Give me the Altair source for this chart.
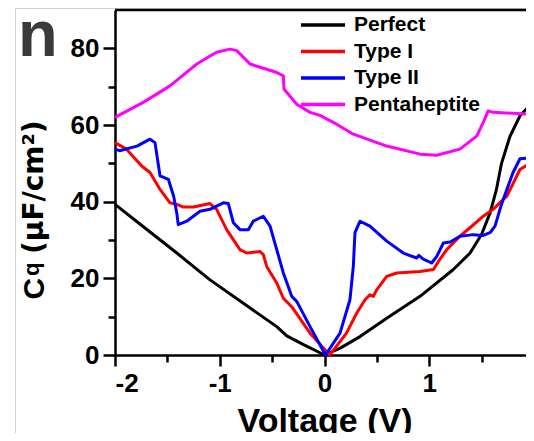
import altair as alt
import pandas as pd

# ---- data ----
perfect_v = [-2, -1.735, -1.41, -1.093, -0.775, -0.456, -0.36, -0.2, 0, 0.15, 0.339, 0.594, 0.912, 1.23, 1.39, 1.5, 1.58, 1.64, 1.69, 1.77, 1.866, 2.0]
perfect_c = [39.3, 33.6, 26.6, 19.6, 13.5, 7.4, 5.0, 2.7, 0, 1.8, 4.8, 9.6, 15.3, 22.3, 26.6, 31.5, 37, 43, 50, 57, 62.4, 66.3]

type1_v = [-2, -1.89, -1.745, -1.666, -1.57, -1.475, -1.41, -1.348, -1.25, -1.093, -1.03, -0.934, -0.807, -0.743,
           -0.616, -0.584, -0.552, -0.456, -0.393, -0.313, -0.138, 0.05, 0.21, 0.307, 0.387, 0.434, 0.466, 0.498,
           0.594, 0.689, 0.912, 1.04, 1.10, 1.167, 1.293, 1.389, 1.516, 1.61, 1.707, 1.74, 1.866, 2.0]
type1_c = [55.4, 53.7, 49.3, 47.6, 43.2, 39.7, 39.3, 38.6, 38.6, 39.5, 38, 32.7, 27.5, 26.6,
           27, 26.2, 23.1, 18.8, 14.8, 12.6, 5.7, 0, 5.7, 10.9, 14.4, 15.7, 15.3, 17,
           20.5, 21.4, 21.8, 22.3, 24.9, 27.5, 31, 33.2, 36.2, 38, 40.6, 41.4, 48.4, 50.6]

type2_v = [-2, -1.957, -1.79, -1.666, -1.618, -1.57, -1.49, -1.44, -1.41, -1.396, -1.315, -1.189, -1.093, -0.966,
           -0.918, -0.87, -0.807, -0.727, -0.68, -0.584, -0.52, -0.456, -0.393, -0.313, -0.265, -0.138, 0.01,
           0.148, 0.243, 0.275, 0.291, 0.339, 0.434, 0.594, 0.752, 0.88, 0.9, 0.943, 1.023, 1.071, 1.134, 1.2,
           1.293, 1.42, 1.516, 1.58, 1.628, 1.675, 1.707, 1.80, 1.866, 2.0]
type2_c = [53.7, 53.3, 54.5, 56.3, 55.4, 46.7, 45.8, 41.4, 37, 34, 34.9, 37.5, 38, 39.7,
           39.5, 34.5, 32.7, 32.7, 34.9, 36.2, 33.6, 27.5, 21.4, 15.3, 14, 7.4, 0,
           5.7, 14.4, 23.1, 31.9, 34.9, 33.6, 29.7, 26.6, 25.3, 26, 25, 24, 25.7, 29.2, 29.5,
           31, 31.4, 31.2, 31.9, 33.6, 38, 40.6, 47.6, 51.2, 51.5]

penta_v = [-2, -1.73, -1.475, -1.22, -1.03, -0.902, -0.838, -0.775, -0.711, -0.584, -0.456, -0.393, -0.387,
           -0.265, -0.138, -0.043, 0.084, 0.275, 0.594, 0.912, 1.071, 1.293, 1.453, 1.516, 1.563, 1.61, 2.0]
penta_c = [62, 65.9, 70.2, 75.9, 79, 79.8, 79.4, 77.7, 75.9, 74.8, 73.7, 72.8, 69.4,
           65.4, 63.3, 62.5, 60.7, 57.6, 54.5, 52.4, 52.1, 53.7, 57.1, 60.7, 63.7, 63.3, 62.8]

series_names = ["Perfect", "Type I", "Type II", "Pentaheptite"]
series_colors = ["#000000", "#ff0000", "#0000ff", "#ff00ff"]
x_ticks = [-2, -1.5, -1, -0.5, 0, 0.5, 1, 1.5, 2]
y_ticks = [0, 10, 20, 30, 40, 50, 60, 70, 80]

rows = []
for name, vs, cs in zip(series_names, [perfect_v, type1_v, type2_v, penta_v], [perfect_c, type1_c, type2_c, penta_c]):
    for i, (v, c) in enumerate(zip(vs, cs)):
        rows.append({"series": name, "V": v, "C": c, "order": i})
df = pd.DataFrame(rows)

FONT = "Liberation Sans"
# the reference is a crop: its right frame lies just past the picture's edge.
# keep the true scale (104.75 px per volt) and let the page edge cut the last few pixels.
W, H = 411, 345
X_MAX = -2 + W / 104.75

lines = alt.Chart(df).mark_line(strokeWidth=3, strokeJoin="round", clip=False).encode(
    x=alt.X("V:Q", scale=alt.Scale(domain=[-2, X_MAX], nice=False, zero=False),
            axis=alt.Axis(values=x_ticks, title="Voltage (V)",
                          labelExpr="datum.value % 1 === 0 ? toString(datum.value) : ''",
                          tickSize={"condition": {"test": "datum.value % 1 === 0", "value": 11}, "value": 7},
                          labelPadding=4, titleFontSize=34, titleX=209.5, titleY=76,
                          titleBaseline="alphabetic", titleAnchor="middle", titleAlign="center")),
    y=alt.Y("C:Q", scale=alt.Scale(domain=[0, 90], nice=False),
            axis=alt.Axis(values=y_ticks, title=None,
                          labelExpr="datum.value % 20 === 0 ? toString(datum.value) : ''",
                          tickSize={"condition": {"test": "datum.value % 20 === 0", "value": 12}, "value": 7},
                          labelPadding=4)),
    color=alt.Color("series:N", sort=series_names,
                    scale=alt.Scale(domain=series_names, range=series_colors),
                    legend=alt.Legend(title=None, orient="none", legendX=197.5, legendY=4.5,
                                      symbolType="M-4,0H4", symbolSize=121, symbolStrokeWidth=3.5,
                                      symbolFillColor="transparent",
                                      labelFont=FONT, labelFontSize=21, labelFontWeight="bold",
                                      labelColor="#000", labelOffset=20.5, rowPadding=4.5, padding=0,
                                      labelExpr="datum.label == 'Pentaheptite' ? '\u00a0Pentaheptite' : datum.label")),
    order="order:Q",
)

one = pd.DataFrame({"a": [0]})
top_frame = alt.Chart(one).mark_rule(color="black", strokeWidth=2.5).encode(
    x=alt.value(0), x2=alt.value(W + 10), y=alt.value(0))
gray_left = alt.Chart(one).mark_rule(color="#d0d0d0", strokeWidth=1).encode(
    x=alt.value(-99.5), y=alt.value(-2), y2=alt.value(440))
gray_top = alt.Chart(one).mark_rule(color="#d0d0d0", strokeWidth=1).encode(
    x=alt.value(-99.5), x2=alt.value(W + 10), y=alt.value(-1.5))

panel = alt.Chart(pd.DataFrame({"t": ["n"]})).mark_text(
    font=FONT, fontSize=65, fontWeight="bold", color="#3a3a3a", align="left", baseline="alphabetic").encode(
    text="t:N", x=alt.value(-97), y=alt.value(46))

ytitle_c = alt.Chart(pd.DataFrame({"t": ["C"]})).mark_text(
    font=FONT, fontSize=30, fontWeight="bold", color="black", align="left", baseline="alphabetic", angle=270).encode(
    text="t:N", x=alt.value(-71.5), y=alt.value(289.5))
ytitle_q = alt.Chart(pd.DataFrame({"t": ["q"]})).mark_text(
    font=FONT, fontSize=22, fontWeight="bold", color="black", align="left", baseline="alphabetic", angle=270).encode(
    text="t:N", x=alt.value(-76.5), y=alt.value(266))
ytitle_u = alt.Chart(pd.DataFrame({"t": ["(\u03bcF/cm\u00b2)"]})).mark_text(
    font="DejaVu Sans", fontSize=28, fontWeight="bold", color="black", align="left", baseline="alphabetic", angle=270).encode(
    text="t:N", x=alt.value(-71.7), y=alt.value(244))

chart = alt.layer(gray_left, gray_top, lines, top_frame, panel, ytitle_c, ytitle_q, ytitle_u).properties(
    width=W, height=H,
    autosize=alt.AutoSizeParams(type="none"),
    padding={"left": 107, "top": 2, "right": 0, "bottom": 78},
).configure_view(stroke=None).configure_axis(
    domainColor="black", domainWidth=2.5, tickColor="black", tickWidth=2.5,
    labelFont=FONT, labelFontSize=26, labelFontWeight="bold", labelColor="black",
    titleFont=FONT, titleFontWeight="bold", titleColor="black", grid=False,
)

chart.save("out.html", embed_options={"renderer": "svg", "actions": False})
